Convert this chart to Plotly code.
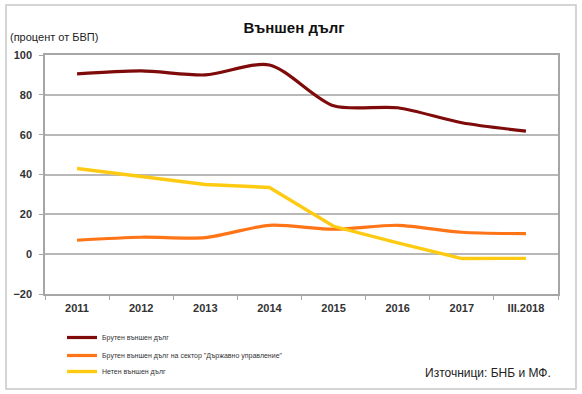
import plotly.graph_objects as go

categories = ["2011", "2012", "2013", "2014", "2015", "2016", "2017", "III.2018"]
gross_external_debt = [90.5, 92.0, 90.0, 95.0, 74.5, 73.5, 66.0, 61.8]
gross_debt_government = [7.0, 8.5, 8.3, 14.5, 12.5, 14.5, 11.0, 10.3]
net_external_debt = [43.0, 39.0, 35.0, 33.5, 14.0, 5.7, -2.2, -2.1]

names = [
    "Брутен външен дълг",
    "Брутен външен дълг на сектор \"Държавно управление\"",
    "Нетен външен дълг",
]
colors = ["#7F0A0A", "#FF7417", "#FFCB12"]

W, H = 582, 394
L, R, T, B = 45, 24, 55, 100
pw, ph = W - L - R, H - T - B

def px(x):
    return (x - L) / pw

def py(y):
    return (H - B - y) / ph

fig = go.Figure()
fig.add_trace(go.Scatter(x=categories, y=gross_external_debt, name=names[0], mode="lines",
                         legend="legend",
                         line=dict(color=colors[0], width=3.2, shape="spline", smoothing=0.8)))
fig.add_trace(go.Scatter(x=categories, y=gross_debt_government, name=names[1], mode="lines",
                         legend="legend2",
                         line=dict(color=colors[1], width=3.2, shape="spline", smoothing=0.8)))
fig.add_trace(go.Scatter(x=categories, y=net_external_debt, name=names[2], mode="lines",
                         legend="legend3",
                         line=dict(color=colors[2], width=3.4)))

def leg(ytop):
    return dict(x=px(62), y=py(ytop), xanchor="left", yanchor="top",
                font=dict(size=7, color="#333333"), bgcolor="rgba(0,0,0,0)",
                itemwidth=30)

fig.update_layout(
    width=W, height=H,
    margin=dict(l=L, r=R, t=T, b=B, autoexpand=False),
    paper_bgcolor="white", plot_bgcolor="white",
    font=dict(family="Liberation Sans, Arial, sans-serif", color="#222222"),
    title=dict(text="<b>Външен дълг</b>", x=294 / W, xref="container", xanchor="center",
               y=1 - 28 / H, yref="container", yanchor="middle",
               font=dict(size=15, color="#111111")),
    showlegend=True,
    legend=leg(323),
    legend2=leg(341),
    legend3=leg(357),
    xaxis=dict(type="category", range=[-0.5, 7.5], showgrid=False,
               showline=True, linecolor="#A6A6A6", linewidth=1.5, mirror=True,
               ticks="outside", tickson="boundaries", ticklen=4, tickcolor="#A6A6A6",
               ticklabelstandoff=3,
               tickfont=dict(size=11, color="#333333", family="Liberation Sans, Arial"),
               tickprefix="<b>", ticksuffix="</b>"),
    yaxis=dict(range=[-20, 100], dtick=20, showgrid=True, gridcolor="#B8B8B8", gridwidth=1.5,
               zeroline=False, showline=True, linecolor="#A6A6A6", linewidth=1.5, mirror=True,
               ticks="outside", ticklen=4, tickcolor="#A6A6A6",
               ticklabelstandoff=5,
               tickfont=dict(size=11, color="#333333", family="Liberation Sans, Arial"),
               tickprefix="<b>", ticksuffix="</b>"),
    annotations=[
        dict(text="(процент от БВП)", xref="paper", yref="paper", x=px(8), y=py(37),
             xanchor="left", yanchor="middle", showarrow=False,
             font=dict(size=11, color="#222222")),
        dict(text="Източници: БНБ и МФ.", xref="paper", yref="paper", x=px(553), y=py(373),
             xanchor="right", yanchor="middle", showarrow=False,
             font=dict(size=12, color="#222222")),
    ],
    shapes=[
        dict(type="rect", xref="paper", yref="paper", x0=px(6), x1=px(576), y0=py(389), y1=py(5),
             line=dict(color="#C8C8C8", width=1.5), fillcolor="rgba(0,0,0,0)", layer="below"),
    ],
)

fig.write_html("out.html", config={"displayModeBar": False},
               post_script="document.body.style.margin='0';")
